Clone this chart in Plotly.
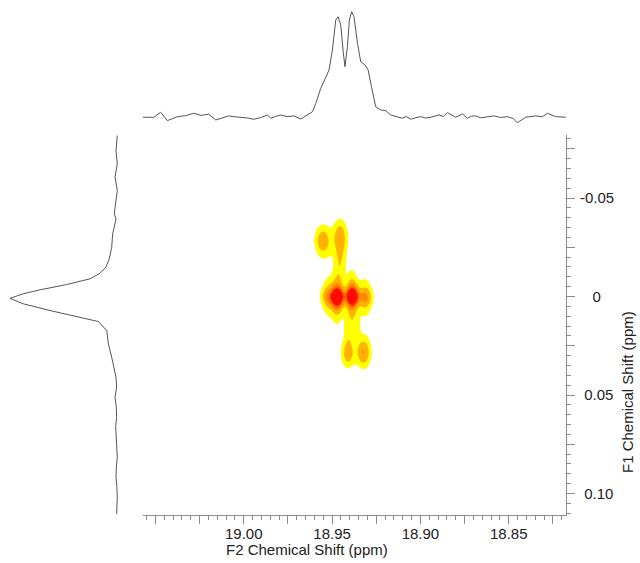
import numpy as np
import plotly.graph_objects as go

# ---------------- data ----------------
# F2 (top) projection: chemical shift (ppm) and intensity (a.u.)
f2_ppm = [19.0573, 19.0509, 19.0470, 19.0432, 19.0375, 19.0330, 19.0283, 19.0240, 19.0198, 19.0158,
          19.0120, 19.0085, 19.0050, 19.0017, 18.9980, 18.9943, 18.9905, 18.9866, 18.9847, 18.9820,
          18.9790, 18.9755, 18.9717, 18.9677, 18.9639, 18.9611, 18.9592, 18.9564, 18.9540, 18.9517,
          18.9498, 18.9479, 18.9466, 18.9451, 18.9436, 18.9427, 18.9413, 18.9402, 18.9389, 18.9376,
          18.9356, 18.9338, 18.9313, 18.9296, 18.9277, 18.9253, 18.9225, 18.9196, 18.9168, 18.9130,
          18.9102, 18.9080, 18.9055, 18.9025, 18.8998, 18.8970, 18.8942, 18.8895, 18.8870, 18.8847,
          18.8820, 18.8800, 18.8762, 18.8734, 18.8710, 18.8687, 18.8660, 18.8640, 18.8610, 18.8583,
          18.8545, 18.8507, 18.8475, 18.8451, 18.8404, 18.8375, 18.8347, 18.8310, 18.8281, 18.8234,
          18.8177]
f2_int = [-0.3, -0.3, 4.5, -3.5, 0.3, 1.2, 3.5, 1.5, 2.6, -2.9,
          -0.8, 1.0, 0.2, -0.3, -1.0, -2.2, -0.6, 1.9, -1.2, 0.5,
          1.9, 0.4, 1.0, -1.9, 1.9, 5.0, 13.0, 27.3, 36.0, 44.8,
          63.8, 92.4, 95.5, 87.6, 60.7, 47.9, 67.0, 92.4, 100.3, 95.5,
          70.2, 52.7, 49.5, 44.8, 28.9, 9.8, 6.7, 6.0, 1.9, 0.3,
          -1.2, 0.4, -2.2, -0.6, 0.3, -1.0, -0.3, 1.9, 0.5, 4.1,
          1.2, -0.3, 2.9, -1.2, 0.8, 1.0, -0.8, -0.3, 0.9, 1.0,
          -0.5, 0.3, -1.5, -5.4, -0.3, 0.6, 1.0, 0.2, 3.5, 0.3,
          -0.3]

# F1 (left) projection: chemical shift (ppm) and intensity (a.u.)
f1_ppm = [-0.0817, -0.0741, -0.0674, -0.0606, -0.0538, -0.0471, -0.0420, -0.0394, -0.0318, -0.0250,
          -0.0191, -0.0149, -0.0118, -0.0090, -0.0061, -0.0034, -0.0014, 0.0009, 0.0037, 0.0071,
          0.0100, 0.0127, 0.0173, 0.0240, 0.0308, 0.0350, 0.0410, 0.0460, 0.0511, 0.0560,
          0.0613, 0.0660, 0.0714, 0.0765, 0.0816, 0.0870, 0.0917, 0.0965, 0.1019, 0.1103]
f1_int = [0.0, 1.2, 0.0, 2.1, 0.0, 1.2, 2.8, 1.2, 4.3, 5.2,
          7.5, 10.6, 16.1, 25.4, 47.1, 72.0, 87.6, 100.0, 87.6, 62.7,
          37.8, 17.6, 9.8, 8.3, 5.2, 3.7, 1.2, 0.6, 2.1, 0.9,
          0.6, 1.5, 1.2, 0.3, 0.0, 0.9, 1.2, 0.4, 0.0, 0.6]

# 2D cross-peak list: F2 centre, F1 centre, height, F2 width, F1 width, F1 line shape
pk_f2 = [18.9468, 18.9387, 18.9522, 18.9312, 18.9553, 18.9453, 18.9412, 18.9322, 18.9452, 18.9410, 18.9366]
pk_f1 = [0.0003, 0.0000, 0.0000, 0.0005, -0.0282, -0.0305, 0.0292, 0.0285, -0.0175, 0.0170, 0.0160]
pk_h = [8.5, 9.0, 3.2, 3.4, 2.7, 2.6, 2.4, 2.9, 1.3, 1.15, 1.1]
pk_w2 = [0.0024, 0.0024, 0.0030, 0.0030, 0.0034, 0.0029, 0.0026, 0.0031, 0.0024, 0.0019, 0.0019]
pk_w1 = [0.0046, 0.0046, 0.0060, 0.0060, 0.0058, 0.0062, 0.0050, 0.0055, 0.0065, 0.0060, 0.0045]
pk_lor = [1, 1, 1, 1, 0, 0, 0, 0, 0, 0, 0]

contour_levels = [1, 2, 3, 4, 5]
level_colors = ["#FFFF00", "#FFB300", "#FF8C00", "#FF5A00", "#FF0A00"]

x_ticks = [19.05, 19.00, 18.95, 18.90, 18.85]
x_text = ["", "19.00", "18.95", "18.90", "18.85"]
x_long = [19.05, 19.025, 19.00, 18.975, 18.95, 18.925, 18.90, 18.875, 18.85, 18.825]
y_ticks = [-0.05, 0.0, 0.05, 0.10]
y_text = ["-0.05", "\u2007\u20080", "\u20080.05", "\u20080.10"]
y_long = [-0.075, -0.05, -0.025, 0.0, 0.025, 0.05, 0.075, 0.10]

# ---------------- build 2D surface from the peak list ----------------
gx = np.linspace(18.90, 18.99, 181)
gy = np.linspace(-0.06, 0.06, 241)
X, Y = np.meshgrid(gx, gy)
Z = np.zeros_like(X)
for cx, cy, h, w2, w1, lor in zip(pk_f2, pk_f1, pk_h, pk_w2, pk_w1, pk_lor):
    px = np.exp(-((X - cx) ** 2) / (2 * w2 ** 2))
    if lor:
        py = 1.0 / (1.0 + ((Y - cy) / w1) ** 2)
    else:
        py = np.exp(-((Y - cy) ** 2) / (2 * w1 ** 2))
    Z += h * px * py

bounds = [0.0, 0.1, 0.3, 0.5, 0.7, 0.9, 1.0]
band_colors = ["#FFFFFF"] + level_colors
colorscale = []
for i, c in enumerate(band_colors):
    colorscale.append([bounds[i], c])
    colorscale.append([bounds[i + 1], c])

W, H = 640, 563
ax_l, ax_r, ax_t, ax_b = 143, 566, 135, 515
x_range = [19.057, 18.8176]
y_range = [0.1109, -0.082]
x_dom = [ax_l / W, ax_r / W]
y_dom = [(H - ax_b) / H, (H - ax_t) / H]

fig = go.Figure()
fig.add_trace(go.Contour(
    x=gx, y=gy, z=Z, xaxis="x", yaxis="y",
    zmin=0.5, zmax=5.5, colorscale=colorscale, showscale=False,
    contours=dict(start=contour_levels[0], end=contour_levels[-1], size=1,
                  coloring="fill", showlines=False),
    line=dict(width=0, smoothing=1.3), hoverinfo="skip",
))
fig.add_trace(go.Scatter(x=f2_ppm, y=f2_int, xaxis="x", yaxis="y3", mode="lines",
                         line=dict(color="#555555", width=1), hoverinfo="skip"))
fig.add_trace(go.Scatter(x=f1_int, y=f1_ppm, xaxis="x2", yaxis="y", mode="lines",
                         line=dict(color="#555555", width=1), hoverinfo="skip"))
# empty traces so the overlay axes carrying the long ticks are drawn
fig.add_trace(go.Scatter(x=[None], y=[None], xaxis="x4", yaxis="y", mode="lines", hoverinfo="skip"))
fig.add_trace(go.Scatter(x=[None], y=[None], xaxis="x", yaxis="y4", mode="lines", hoverinfo="skip"))

axis_grey = "#8c8c8c"
txt = dict(size=15, color="#222222")
minor = dict(tickmode="linear", tick0=0, dtick=0.005, ticks="outside", ticklen=4,
             tickcolor=axis_grey, showgrid=False)
fig.update_layout(
    width=W, height=H, margin=dict(l=0, r=0, t=0, b=0),
    paper_bgcolor="white", plot_bgcolor="white", showlegend=False,
    font=dict(family="Liberation Sans, Arial, sans-serif", size=15, color="#222222"),
    xaxis=dict(domain=x_dom, range=x_range, anchor="y",
               tickmode="array", tickvals=x_ticks, ticktext=x_text,
               ticks="outside", ticklen=4, tickcolor=axis_grey, tickwidth=1,
               showline=True, linecolor=axis_grey, linewidth=1, showgrid=False, zeroline=False,
               minor=minor, automargin=False, ticklabelstandoff=1, tickfont=txt),
    xaxis4=dict(domain=x_dom, range=x_range, anchor="y", overlaying="x", side="bottom",
                tickmode="array", tickvals=x_long, showticklabels=False,
                ticks="outside", ticklen=8, tickcolor=axis_grey, tickwidth=1,
                showline=False, showgrid=False, zeroline=False, automargin=False),
    yaxis=dict(domain=y_dom, range=y_range, anchor="x",
               side="right", tickmode="array", tickvals=y_ticks, ticktext=y_text,
               ticks="outside", ticklen=4, tickcolor=axis_grey, tickwidth=1,
               showline=True, linecolor=axis_grey, linewidth=1, showgrid=False, zeroline=False,
               minor=minor, automargin=False, ticklabelstandoff=6, tickfont=txt),
    yaxis4=dict(domain=y_dom, range=y_range, anchor="x", overlaying="y", side="right",
                tickmode="array", tickvals=y_long, showticklabels=False,
                ticks="outside", ticklen=8, tickcolor=axis_grey, tickwidth=1,
                showline=False, showgrid=False, zeroline=False, automargin=False),
    xaxis2=dict(domain=[0, 125 / W], range=[109.3, -7.2], anchor="y", visible=False),
    yaxis3=dict(domain=[(H - 124) / H, (H - 8) / H], range=[-6.7, 103.8], anchor="x", visible=False),
    annotations=[
        dict(text="F2 Chemical Shift (ppm)", xref="paper", yref="paper",
             x=307 / W, y=(H - 549) / H, showarrow=False, xanchor="center", yanchor="middle",
             font=txt),
        dict(text="F1 Chemical Shift (ppm)", xref="paper", yref="paper",
             x=627 / W, y=(H - 392) / H, showarrow=False, xanchor="center", yanchor="middle",
             textangle=-90, font=txt),
    ],
)

fig.write_html("out.html")
